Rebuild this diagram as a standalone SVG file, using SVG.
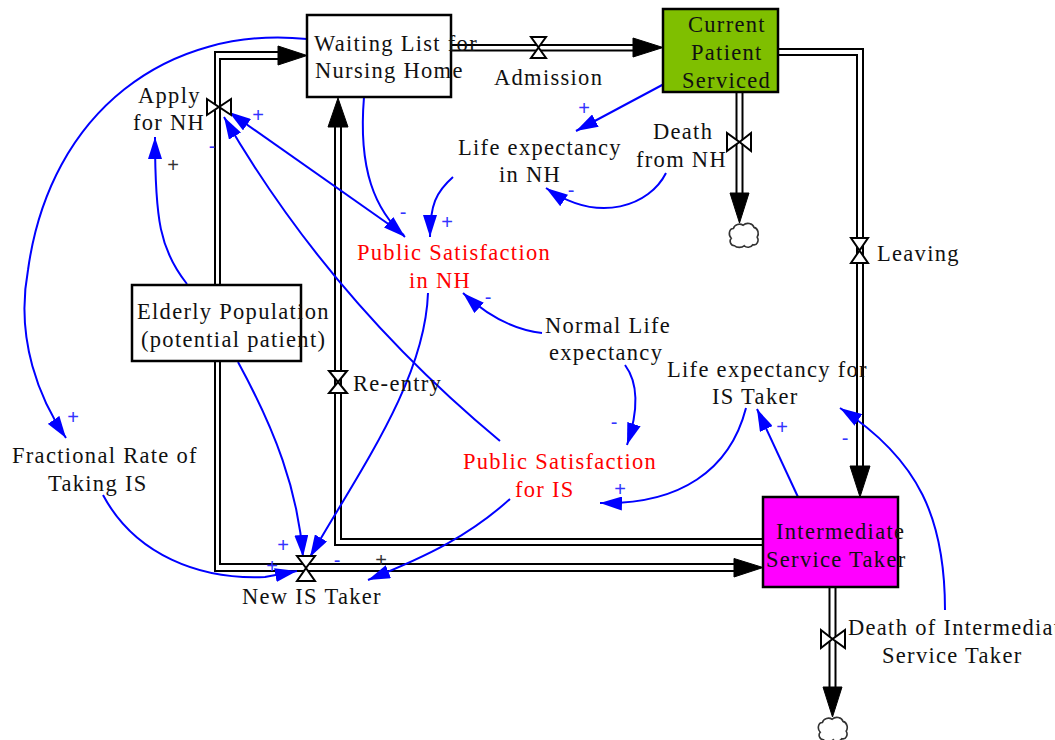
<svg xmlns="http://www.w3.org/2000/svg" width="1055" height="740" viewBox="0 0 1055 740">
<style>
.bg{fill:#ffffff}
.pipe{fill:none;stroke:#000;stroke-width:2}
.ah{fill:#000;stroke:#000;stroke-width:1}
.valve{fill:#fff;stroke:#000;stroke-width:2}
.box{stroke:#000;stroke-width:2.5}
.t{font-family:"Liberation Serif","Times New Roman",serif;font-size:22.5px;letter-spacing:1.3px;fill:#111}
.red{fill:#ff0000}
.lnk{fill:none;stroke:#0000ff;stroke-width:2;marker-end:url(#ba)}
.pol{font-family:"Liberation Sans",Arial,sans-serif;font-size:20px;fill:#3333ff;text-anchor:middle;dominant-baseline:central}
.dk{fill:#333}
.cloud{fill:#fff;stroke:#333;stroke-width:1.5}
</style>
<defs>
<marker id="ba" viewBox="0 0 22 14" refX="22" refY="7" markerWidth="22" markerHeight="14" markerUnits="userSpaceOnUse" orient="auto"><path d="M0,0 L22,7 L0,14 z" fill="#0000ff"/></marker>
<path id="cl" d="M6,22 C2,22 1,17 3,15 C0,12 1,6 5,6 C6,2 11,1 14,3 C17,0 23,1 24,5 C28,6 29,11 27,14 C29,17 27,22 23,21 C21,24 17,24 15,22 C13,24 8,24 6,22 Z"/>
</defs>
<rect class="bg" x="0" y="0" width="1055" height="740"/>

<g id="flows">
  <path class="pipe" d="M278,52 L215,52 L215,571 L734,571"/>
  <path class="pipe" d="M278,59 L220,59 L220,564 L734,564"/>
  <polygon class="ah" points="278,46 307,55.5 278,65"/>
  <polygon class="ah" points="734,558.5 763,567.5 734,577"/>
  <path class="pipe" d="M763,545 L335,545 L335,127"/>
  <path class="pipe" d="M763,539 L341,539 L341,127"/>
  <polygon class="ah" points="328,127 338,98 348,127"/>
  <path class="pipe" d="M451,45 L634,45"/>
  <path class="pipe" d="M451,50.5 L634,50.5"/>
  <polygon class="ah" points="633,38 663,47.5 633,57"/>
  <path class="pipe" d="M778,49 L863,49 L863,466"/>
  <path class="pipe" d="M778,55 L857,55 L857,466"/>
  <polygon class="ah" points="850,466 860,497 870,466"/>
  <path class="pipe" d="M736.5,92 L736.5,194"/>
  <path class="pipe" d="M742.5,92 L742.5,194"/>
  <polygon class="ah" points="730,193 739.5,223 749,193"/>
  <use href="#cl" class="cloud" transform="translate(728,222) scale(1.08)"/>
  <path class="pipe" d="M829.5,587 L829.5,688"/>
  <path class="pipe" d="M835.5,587 L835.5,688"/>
  <polygon class="ah" points="823,687 832.5,717 842,687"/>
  <use href="#cl" class="cloud" transform="translate(817,716) scale(1.08)"/>
</g>

<g id="connectors">
  <path class="lnk" d="M307,39 C170,25 50,110 28,270 C15,340 40,400 66,438"/>
  <path class="lnk" d="M364,97 C358,170 375,210 405,237"/>
  <path class="lnk" d="M404,235 L229,112"/>
  <path class="lnk" d="M500,441 Q330,300 224,117"/>
  <path class="lnk" d="M187,284 C160,250 155,220 155,137"/>
  <path class="lnk" d="M238,362 C275,430 298,490 303,557"/>
  <path class="lnk" d="M428,293 C425,380 360,470 310,557"/>
  <path class="lnk" d="M510,499 C470,535 430,555 368,580"/>
  <path class="lnk" d="M103,495 C135,555 200,580 265,577 L297,571"/>
  <path class="lnk" d="M664,84 L576,131"/>
  <path class="lnk" d="M666,173 C650,205 600,225 546,188"/>
  <path class="lnk" d="M453,177 C436,192 430,205 430,237"/>
  <path class="lnk" d="M542,333 C515,330 490,318 463,293"/>
  <path class="lnk" d="M625,365 C640,385 637,415 627,445"/>
  <path class="lnk" d="M746,408 C730,470 680,505 600,503"/>
  <path class="lnk" d="M798,497 L757,409"/>
  <path class="lnk" d="M945,610 C945,520 920,460 840,408"/>
  <text class="pol" x="73" y="417">+</text>
  <text class="pol" x="258" y="115">+</text>
  <text class="pol" x="212" y="146">-</text>
  <text class="pol dk" x="173" y="165">+</text>
  <text class="pol" x="584" y="108">+</text>
  <text class="pol" x="571" y="190">-</text>
  <text class="pol" x="403" y="212">-</text>
  <text class="pol" x="447" y="222">+</text>
  <text class="pol" x="488" y="297">-</text>
  <text class="pol" x="614" y="422">-</text>
  <text class="pol" x="620" y="489">+</text>
  <text class="pol" x="782" y="427">+</text>
  <text class="pol" x="845" y="438">-</text>
  <text class="pol" x="283" y="545">+</text>
  <text class="pol" x="272" y="566">+</text>
  <text class="pol" x="337" y="560">-</text>
  <text class="pol dk" x="381" y="560">+</text>
</g>

<g id="waiting-list">
  <rect class="box" x="307" y="15" width="144" height="82" fill="#fff"/>
  <text class="t" x="314" y="51">Waiting List for</text>
  <text class="t" x="315" y="78">Nursing Home</text>
</g>
<g id="current-patient">
  <rect class="box" x="663" y="9" width="115" height="83" fill="#7fbf00"/>
  <text class="t" x="688" y="32">Current</text>
  <text class="t" x="691" y="60">Patient</text>
  <text class="t" x="682" y="88">Serviced</text>
</g>
<g id="elderly-population">
  <rect class="box" x="132" y="285" width="169" height="76" fill="#fff"/>
  <text class="t" x="137" y="319">Elderly Population</text>
  <text class="t" x="141" y="347">(potential patient)</text>
</g>
<g id="intermediate-service-taker">
  <rect class="box" x="763" y="497" width="135" height="90" fill="#ff00ff"/>
  <text class="t" x="776" y="539">Intermediate</text>
  <text class="t" x="766" y="567">Service Taker</text>
</g>
<g id="admission">
  <polygon class="valve" points="531,37 546,37 538.5,47.5 546,58 531,58 538.5,47.5"/>
  <text class="t" x="494" y="85">Admission</text>
</g>
<g id="apply-for-nh">
  <polygon class="valve" points="207,99 207,115 219,107 231,115 231,99 219,107"/>
  <text class="t" x="138" y="103">Apply</text>
  <text class="t" x="133" y="130">for NH</text>
</g>
<g id="death-from-nh">
  <polygon class="valve" points="727,133 727,151 739.5,142 751,151 751,133 739.5,142"/>
  <text class="t" x="653" y="139">Death</text>
  <text class="t" x="636" y="167">from NH</text>
</g>
<g id="leaving">
  <polygon class="valve" points="851,238 868,238 859.5,250.5 868,263 851,263 859.5,250.5"/>
  <text class="t" x="877" y="261">Leaving</text>
</g>
<g id="re-entry">
  <polygon class="valve" points="329,371 347,371 338,382 347,393 329,393 338,382"/>
  <text class="t" x="353" y="391">Re-entry</text>
</g>
<g id="new-is-taker">
  <polygon class="valve" points="297,556 315,556 306,568 315,581 297,581 306,568"/>
  <text class="t" x="242" y="604">New IS Taker</text>
</g>
<g id="death-of-ist">
  <polygon class="valve" points="821,630 821,648 832.5,639 845,648 845,630 832.5,639"/>
  <text class="t" x="848" y="635">Death of Intermediate</text>
  <text class="t" x="882" y="663">Service Taker</text>
</g>
<g id="life-expectancy-nh">
  <text class="t" x="458" y="155">Life expectancy</text>
  <text class="t" x="499" y="182">in NH</text>
</g>
<g id="public-satisfaction-nh">
  <text class="t red" x="357" y="260">Public Satisfaction</text>
  <text class="t red" x="409" y="288">in NH</text>
</g>
<g id="normal-life-expectancy">
  <text class="t" x="545" y="333">Normal Life</text>
  <text class="t" x="549" y="360">expectancy</text>
</g>
<g id="life-expectancy-is">
  <text class="t" x="667" y="377">Life expectancy for</text>
  <text class="t" x="712" y="404">IS Taker</text>
</g>
<g id="public-satisfaction-is">
  <text class="t red" x="463" y="469">Public Satisfaction</text>
  <text class="t red" x="515" y="497">for IS</text>
</g>
<g id="fractional-rate">
  <text class="t" x="12" y="463">Fractional Rate of</text>
  <text class="t" x="48" y="491">Taking IS</text>
</g>
</svg>
